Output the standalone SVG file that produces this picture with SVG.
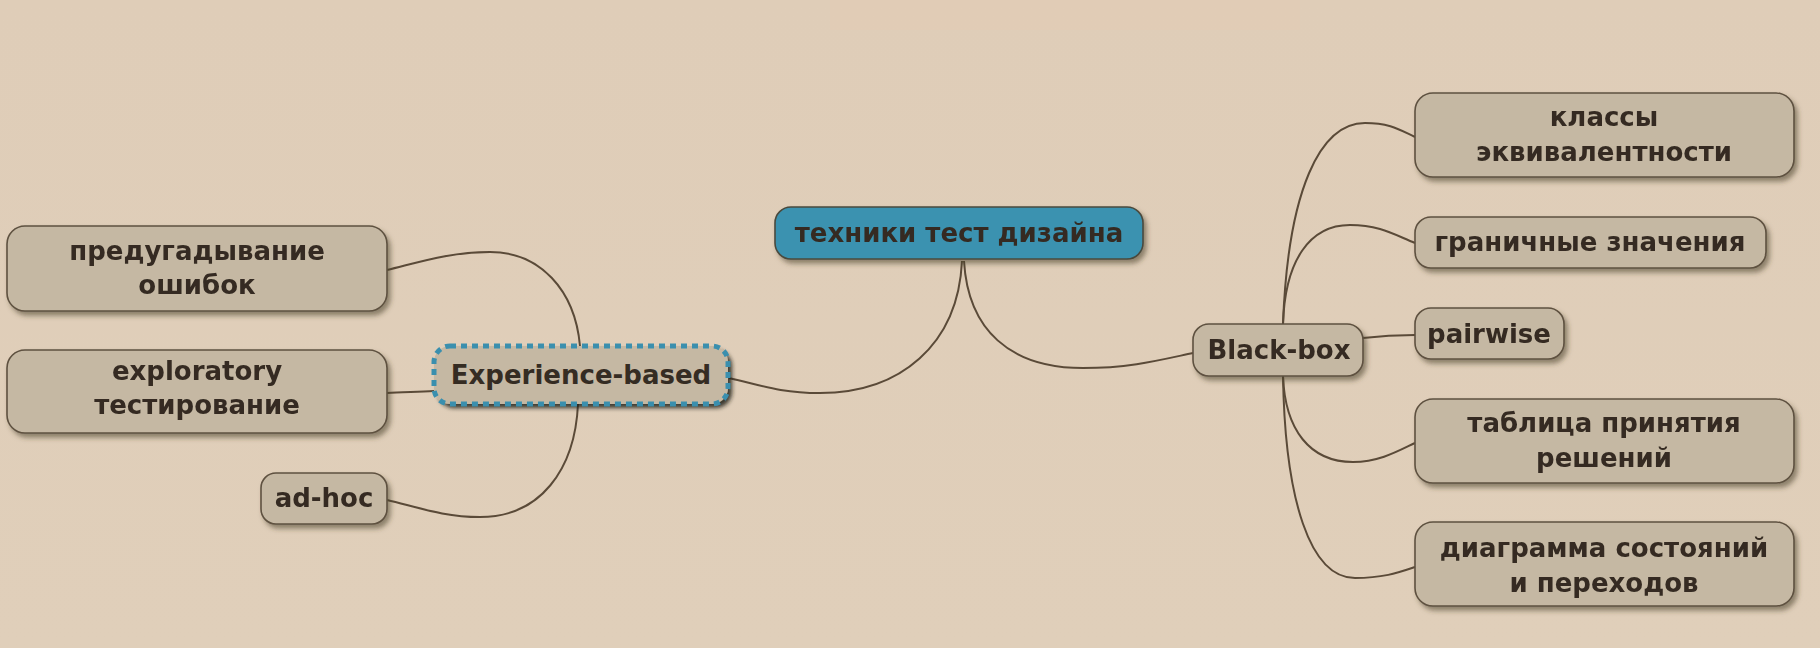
<svg xmlns="http://www.w3.org/2000/svg" width="1820" height="648" viewBox="0 0 1820 648">
  <defs>
    <filter id="sh" x="-10%" y="-20%" width="125%" height="150%">
      <feDropShadow dx="3" dy="4" stdDeviation="2.5" flood-color="#4a3c2c" flood-opacity="0.55"/>
    </filter>
    <filter id="shd" x="-10%" y="-20%" width="125%" height="150%">
      <feDropShadow dx="4" dy="4" stdDeviation="2" flood-color="#1e1a14" flood-opacity="0.85"/>
    </filter>
    <linearGradient id="bg" x1="0" y1="0" x2="0" y2="1">
      <stop offset="0" stop-color="#dfcdb8"/>
      <stop offset="1" stop-color="#e0cfba"/>
    </linearGradient>
  </defs>
  <style>
    .node { fill: #c5b8a3; stroke: #5e5140; stroke-width: 1.6; }
    .t { font-family: "DejaVu Sans", Verdana, sans-serif; font-weight: bold; font-size: 26px; fill: #352c23; text-anchor: middle; }
    .c { fill: none; stroke: #5a4a38; stroke-width: 2; }
  </style>
  <rect width="1820" height="648" fill="url(#bg)"/>
  <rect x="830" y="0" width="470" height="30" fill="#e3cbb4" opacity="0.5"/>

  <g id="connectors">
    <path class="c" d="M962,261 C958,345 900,393 820,393 C780,393 760,385 729,378"/>
    <path class="c" d="M964,261 C968,330 1010,368 1083,368 C1130,368 1160,360 1193,353"/>
    <path class="c" d="M580,346 C575,290 540,252 490,252 C450,252 420,262 387,270"/>
    <path class="c" d="M434,391 C415,392 400,392 387,393"/>
    <path class="c" d="M578,404 C575,470 540,517 480,517 C445,517 420,508 387,500"/>
    <path class="c" d="M1283,324 C1288,190 1320,123 1365,123 C1390,123 1400,130 1415,137"/>
    <path class="c" d="M1283,324 C1285,260 1310,225 1350,225 C1380,225 1395,235 1415,243"/>
    <path class="c" d="M1363,338 C1380,336 1398,335 1415,335"/>
    <path class="c" d="M1283,376 C1285,430 1310,462 1353,462 C1380,462 1400,450 1415,443"/>
    <path class="c" d="M1283,376 C1285,500 1310,578 1355,578 C1385,578 1400,572 1415,567"/>
  </g>

  <g id="n-root" filter="url(#sh)">
    <rect x="775" y="207" width="368" height="52" rx="16" fill="#3a92b0" stroke="#4a4a3e" stroke-width="1.6"/>
    <text class="t" x="959" y="242">техники тест дизайна</text>
  </g>

  <g id="n-experience">
    <rect x="434" y="346" width="294" height="58" rx="16" fill="#c5b8a3" filter="url(#shd)"/>
    <rect x="434" y="346" width="294" height="58" rx="16" fill="none" stroke="#3a8fae" stroke-width="5" stroke-dasharray="6 5"/>
    <text class="t" x="581" y="384">Experience-based</text>
  </g>

  <g id="n-guess" filter="url(#sh)">
    <rect class="node" x="7" y="226" width="380" height="85" rx="18"/>
    <text class="t" x="197" y="260">предугадывание</text>
    <text class="t" x="197" y="294">ошибок</text>
  </g>

  <g id="n-exploratory" filter="url(#sh)">
    <rect class="node" x="7" y="350" width="380" height="83" rx="18"/>
    <text class="t" x="197" y="380">exploratory</text>
    <text class="t" x="197" y="414">тестирование</text>
  </g>

  <g id="n-adhoc" filter="url(#sh)">
    <rect class="node" x="261" y="473" width="126" height="51" rx="15"/>
    <text class="t" x="324" y="507">ad-hoc</text>
  </g>

  <g id="n-blackbox" filter="url(#sh)">
    <rect class="node" x="1193" y="324" width="170" height="52" rx="16"/>
    <text class="t" x="1279" y="359">Black-box</text>
  </g>

  <g id="n-classes" filter="url(#sh)">
    <rect class="node" x="1415" y="93" width="379" height="84" rx="18"/>
    <text class="t" x="1604" y="126">классы</text>
    <text class="t" x="1604" y="161">эквивалентности</text>
  </g>

  <g id="n-boundary" filter="url(#sh)">
    <rect class="node" x="1415" y="217" width="351" height="51" rx="16"/>
    <text class="t" x="1590" y="251">граничные значения</text>
  </g>

  <g id="n-pairwise" filter="url(#sh)">
    <rect class="node" x="1415" y="308" width="149" height="51" rx="16"/>
    <text class="t" x="1489" y="343">pairwise</text>
  </g>

  <g id="n-decision" filter="url(#sh)">
    <rect class="node" x="1415" y="399" width="379" height="84" rx="18"/>
    <text class="t" x="1604" y="432">таблица принятия</text>
    <text class="t" x="1604" y="467">решений</text>
  </g>

  <g id="n-state" filter="url(#sh)">
    <rect class="node" x="1415" y="522" width="379" height="84" rx="18"/>
    <text class="t" x="1604" y="557">диаграмма состояний</text>
    <text class="t" x="1604" y="592">и переходов</text>
  </g>
</svg>
